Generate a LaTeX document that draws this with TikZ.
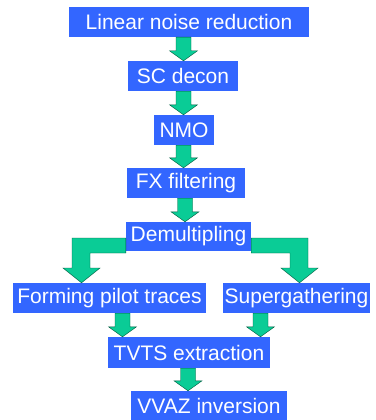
\documentclass[tikz,border=0pt]{standalone}
\usepackage{fontspec}
\setmainfont{Liberation Sans}
\usepackage{xcolor}
\usetikzlibrary{calc}
\definecolor{boxblue}{RGB}{51,102,255}
\definecolor{arrgreen}{RGB}{10,204,150}
\definecolor{arredge}{RGB}{0,90,60}

\begin{document}
\begin{tikzpicture}[
  x=1pt, y=-1pt,
  font=\fontsize{21}{25}\selectfont,
  st/.style={fill=boxblue, text=white, inner sep=0pt, minimum height=30pt},
  blk/.style={fill=arrgreen, draw=arredge, line width=0.4pt, line join=miter}
]
\useasboundingbox (0,0) rectangle (375,420);
% main chain
\node[st, minimum width=240pt] (lin) at (189,22)  {Linear noise reduction\hspace{12pt}};
\node[st, minimum width=110pt] (scd) at (183,76)  {SC decon};
\node[st, minimum width=60pt]  (nmo) at (184,130) {NMO};
\node[st, minimum width=118pt] (fxf) at (186,183) {FX filtering};
\node[st, minimum width=125pt, minimum height=29pt] (dem) at (188.5,236.5) {Demultipling};
% two branches
\node[st, minimum width=193pt] (fpt) at (109.5,298) {Forming pilot traces};
\node[st, minimum width=147pt] (sup) at (296.5,298) {Supergathering};
% merge
\node[st, minimum width=162pt, minimum height=31pt] (tvts) at (189,352.5) {TVTS extraction};
\node[st, minimum width=156pt] (vvaz) at (209,406) {VVAZ inversion};
% straight block arrows
\foreach \s/\t/\ax in {lin/scd/183.5, scd/nmo/183.5, nmo/fxf/183.5, fxf/dem/185,
                       fpt/tvts/122.5, sup/tvts/260.5, tvts/vvaz/188}
  \filldraw[blk] let \p1=(\s.south), \p2=(\t.north) in
    ({\ax pt-7.5pt},\y1) -- ({\ax pt-7.5pt},\y2+10pt) -- ({\ax pt-14pt},\y2+10pt)
    -- ({\ax pt},\y2) -- ({\ax pt+14pt},\y2+10pt) -- ({\ax pt+7.5pt},\y2+10pt)
    -- ({\ax pt+7.5pt},\y1) -- cycle;
% bent block arrows
\filldraw[blk] ([yshift=-1.5pt]dem.west) -- (72,238) -- (72,268) -- (63,268)
  -- (fpt.north -| 81.5,0) -- (100,268) -- (90,268) -- (90,253)
  -- ([yshift=-16.5pt]dem.west) -- cycle;
\filldraw[blk] ([yshift=-1.5pt]dem.east) -- (308,238) -- (308,268) -- (318,268)
  -- (sup.north -| 299.5,0) -- (281,268) -- (290,268) -- (290,253)
  -- ([yshift=-16.5pt]dem.east) -- cycle;
\end{tikzpicture}
\end{document}
